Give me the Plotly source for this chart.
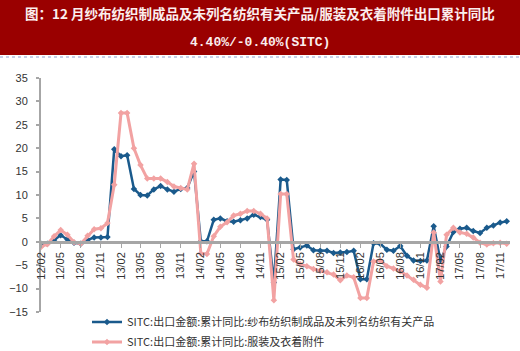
import plotly.graph_objects as go
import pandas as pd

# ---- data ----
months = pd.date_range("2012-02-01", periods=71, freq="MS")
textile = [-0.4, -0.4, 0.4, 1.4, 0.5, -0.2, -0.4, 0.4, 0.9, 0.9, 1.0,
           19.8, 18.3, 18.5, 11.3, 10.0, 9.9, 11.2, 11.9, 11.2, 10.7, 11.3, 11.5,
           15.0, 0.1, 0.1, 4.7, 5.0, 4.4, 4.3, 4.6, 5.0, 5.8, 5.3, 4.7,
           -8.7, 13.3, 13.2, -1.6, -1.2, -0.8, -1.8, -1.9, -1.9, -2.4, -2.3, -2.2, -1.9,
           -8.0, -8.0, -0.3, -0.4, -1.7, -1.9, -0.9, -3.0, -4.0, -4.1, -4.0,
           3.3, -4.0, -1.0, 2.1, 2.8, 3.0, 2.3, 1.9, 3.0, 3.5, 4.1, 4.4]
apparel = [-1.1, -0.5, 1.2, 2.5, 1.5, -0.1, -0.4, 1.3, 2.7, 2.9, 4.0,
           12.2, 27.5, 27.5, 20.0, 16.4, 13.5, 13.5, 13.5, 12.8, 11.8, 11.5, 11.2,
           16.7, -2.5, -2.6, 1.2, 3.2, 4.2, 5.6, 6.0, 6.6, 6.6, 6.0, 5.0,
           -12.5, 10.2, 10.2, -3.8, -4.8, -5.2, -5.8, -6.2, -6.5, -7.0, -8.2, -7.2, -7.6,
           -12.0, -12.0, -4.2, -4.0, -5.2, -5.7, -6.3, -7.2, -8.1, -9.2, -9.8,
           2.0, -8.5, 1.5, 3.0, 2.0, 1.7, 0.9, -0.2, -0.6, -0.3, -0.2, -0.4]
name_textile = "SITC:出口金额:累计同比:纱布纺织制成品及未列名纺织有关产品"
name_apparel = "SITC:出口金额:累计同比:服装及衣着附件"
title_line1 = "图：12 月纱布纺织制成品及未列名纺织有关产品/服装及衣着附件出口累计同比"
title_line2 = "4.40%/-0.40%(SITC)"
y_ticks = [35, 30, 25, 20, 15, 10, 5, 0, -5, -10, -15]

# ---- layout geometry ----
W, H = 520, 351
L, R, T, B = 41, 10, 78, 39
PW, PH = W - L - R, H - T - B

def py(px):  # pixel row -> paper y
    return 1 + (T - px) / PH

def pxx(px):  # pixel col -> paper x
    return (px - L) / PW

BLUE = "#1a5a8c"
PINK = "#f2a2a2"

fig = go.Figure()
fig.add_trace(go.Scatter(
    x=months, y=textile, name=name_textile, mode="lines+markers",
    line=dict(color=BLUE, width=2.5),
    marker=dict(symbol="diamond", size=5, color=BLUE), legend="legend"))
fig.add_trace(go.Scatter(
    x=months, y=apparel, name=name_apparel, mode="lines+markers",
    line=dict(color=PINK, width=3),
    marker=dict(symbol="diamond", size=5, color=PINK), legend="legend2"))

# title band
fig.add_shape(type="rect", xref="paper", yref="paper",
              x0=pxx(0), x1=pxx(W), y0=py(55), y1=py(0),
              fillcolor="#9a0000", line=dict(width=0), layer="below")
fig.add_shape(type="line", xref="paper", yref="paper",
              x0=pxx(0), x1=pxx(W), y0=py(57), y1=py(57),
              line=dict(color="#8fa0d0", width=1, dash="dot"))
fig.add_annotation(text="<b>" + title_line1 + "</b>", xref="paper", yref="paper",
                   x=pxx(260), y=py(13), showarrow=False,
                   font=dict(family="Noto Sans CJK SC", size=13.5, color="#fbeeee"),
                   xanchor="center", yanchor="middle")
fig.add_annotation(text="<b>" + title_line2 + "</b>", xref="paper", yref="paper",
                   x=pxx(260), y=py(42), showarrow=False,
                   font=dict(family="Liberation Mono, DejaVu Sans Mono", size=13, color="#fbeeee"),
                   xanchor="center", yanchor="middle")

legend_common = dict(xanchor="left", yanchor="middle", bgcolor="rgba(0,0,0,0)",
                     font=dict(family="Noto Sans CJK SC", size=11, color="#333333"),
                     itemwidth=30, borderwidth=0)

fig.update_layout(
    width=W, height=H,
    margin=dict(l=L, r=R, t=T, b=B, autoexpand=False),
    plot_bgcolor="white", paper_bgcolor="white",
    font=dict(family="Liberation Sans, Arial", size=11, color="#333333"),
    showlegend=True,
    legend=dict(x=pxx(87), y=py(322), **legend_common),
    legend2=dict(x=pxx(87), y=py(342), **legend_common),
    xaxis=dict(type="date", range=["2012-02-01", "2017-12-16"],
               tick0="2012-02-01", dtick="M3", tickformat="%y/%m",
               tickangle=-90, showgrid=False, zeroline=False,
               showline=True, linecolor="#a6a6a6", linewidth=3,
               ticks="outside", ticklen=4, tickcolor="#a6a6a6", tickwidth=1,
               anchor="free", position=15 / 50,
               tickfont=dict(family="Liberation Sans, Arial", size=11, color="#333333")),
    yaxis=dict(range=[-15, 35], tickvals=y_ticks, showgrid=False, zeroline=False,
               showline=True, linecolor="#a6a6a6", linewidth=2,
               ticks="outside", ticklen=3, tickcolor="#a6a6a6", tickwidth=2,
               ticklabelstandoff=6,
               tickfont=dict(family="Liberation Sans, Arial", size=11, color="#333333")),
)

fig.write_html("out.html")
